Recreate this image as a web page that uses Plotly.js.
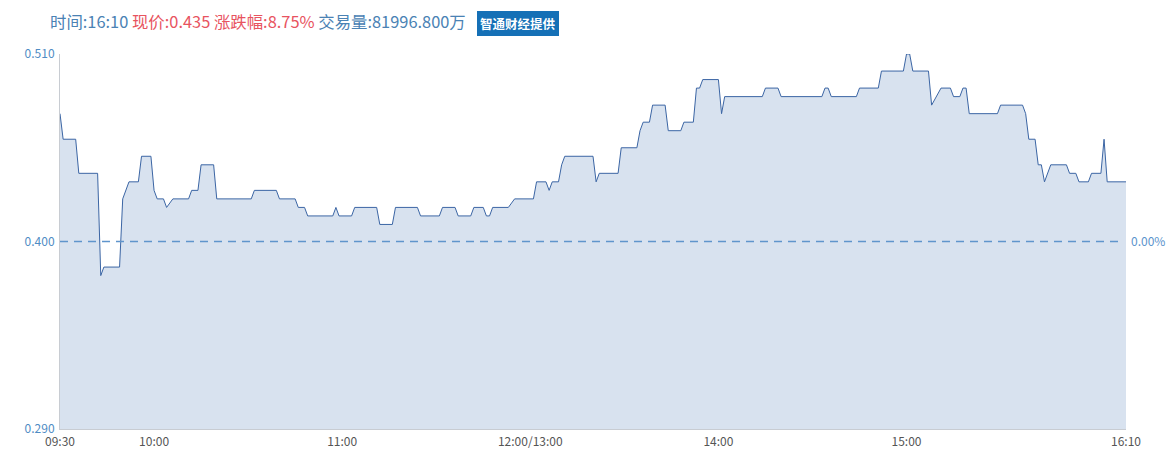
<!DOCTYPE html>
<html>
<head>
<meta charset="utf-8">
<script src="https://cdn.plot.ly/plotly-3.0.1.min.js"></script>
<style>
html,body{margin:0;padding:0;background:#fff;}
#chart{width:1176px;height:455px;}
</style>
</head>
<body>
<div id="chart"></div>
<script>
// minutes since 09:30 (lunch break removed), price
const minutes = [0,1,5,6,12,13,14,19,20,22,25,26,29,30,31,33,34,36,41,42,44,45,49,50,61,62,69,70,75,76,78,79,87,88,89,93,94,101,102,106,107,114,115,121,122,126,127,131,132,135,136,137,138,143,145,151,152,155,156,157,159,160,161,170,171,172,178,179,184,185,186,188,189,193,194,198,199,202,203,204,205,210,211,212,224,225,229,230,243,244,245,246,254,255,261,262,269,270,271,272,277,278,281,284,285,287,288,289,290,299,300,307,308,309,311,312,313,314,316,321,322,324,325,328,329,332,333,334,340];
const prices = [0.475,0.460,0.460,0.440,0.440,0.380,0.385,0.385,0.425,0.435,0.435,0.450,0.450,0.430,0.425,0.425,0.420,0.425,0.425,0.430,0.430,0.445,0.445,0.425,0.425,0.430,0.430,0.425,0.425,0.420,0.420,0.415,0.415,0.420,0.415,0.415,0.420,0.420,0.410,0.410,0.420,0.420,0.415,0.415,0.420,0.420,0.415,0.415,0.420,0.420,0.415,0.415,0.420,0.420,0.425,0.425,0.435,0.435,0.430,0.435,0.435,0.445,0.450,0.450,0.435,0.440,0.440,0.455,0.455,0.465,0.470,0.470,0.480,0.480,0.465,0.465,0.470,0.470,0.490,0.490,0.495,0.495,0.475,0.485,0.485,0.490,0.490,0.485,0.485,0.490,0.490,0.485,0.485,0.490,0.490,0.500,0.500,0.510,0.510,0.500,0.500,0.480,0.490,0.490,0.485,0.485,0.490,0.490,0.475,0.475,0.480,0.480,0.475,0.460,0.460,0.445,0.445,0.435,0.445,0.445,0.440,0.440,0.435,0.435,0.440,0.440,0.460,0.435,0.435];
const tickMinutes = [0,30,90,150,210,270,340];
const tickLabels = ['09:30','10:00','11:00','12:00/13:00','14:00','15:00','16:10'];
const prevClose = 0.400;
const yTicks = [0.290,0.400,0.510];
const yTickLabels = ['0.290','0.400','0.510'];
const rightTicks = [0.400];
const rightTickLabels = ['0.00%'];

const FONT = '"Noto Sans CJK SC", "Noto Sans", sans-serif';

const trace = {
  x: minutes, y: prices, type: 'scatter', mode: 'lines',
  line: {color: '#3b65a4', width: 1},
  fill: 'tozeroy', fillcolor: '#d8e2ef',
  hoverinfo: 'skip'
};
const dummy = {x:[0,340], y:[prevClose,prevClose], yaxis:'y2', mode:'lines', line:{width:0}, hoverinfo:'skip', showlegend:false};

const layout = {
  width: 1176, height: 455,
  margin: {l: 60, r: 50, t: 54, b: 26},
  paper_bgcolor: '#fff', plot_bgcolor: '#fff',
  showlegend: false,
  font: {family: FONT},
  xaxis: {
    range: [0, 340], tickvals: tickMinutes, ticktext: tickLabels,
    showgrid: false, zeroline: false, showline: true, linecolor: '#c8ccd2', linewidth: 1,
    ticks: '', ticklabelstandoff: 2, tickfont: {size: 12, color: '#555', family: FONT}, fixedrange: true
  },
  yaxis: {
    range: [0.290, 0.510], tickvals: yTicks, ticktext: yTickLabels,
    showgrid: false, zeroline: false, showline: true, linecolor: '#c8ccd2', linewidth: 1,
    ticks: '', ticklabelstandoff: 2, tickfont: {size: 12, color: '#4f8cc4', family: FONT}
  },
  yaxis2: {
    overlaying: 'y', side: 'right', range: [0.290, 0.510],
    tickvals: rightTicks, ticktext: rightTickLabels,
    showgrid: false, zeroline: false, showline: false, ticks: '', ticklabelstandoff: 4,
    tickfont: {size: 12, color: '#5b93cc', family: FONT}
  },
  shapes: [{
    type: 'line', xref: 'paper', x0: 0, x1: 0.993, yref: 'y', y0: prevClose, y1: prevClose,
    line: {color: '#5f95cc', width: 1.5, dash: '8px,6px'}
  }],
  annotations: [
    {
      xref: 'paper', yref: 'paper', x: (48-60)/1066, y: 1 + (54-21)/375,
      xanchor: 'left', yanchor: 'middle', showarrow: false,
      text: '<span style="color:#4a82b4">时间:16:10</span> <span style="color:#e8545f">现价:0.435 涨跌幅:8.75%</span> <span style="color:#4a82b4">交易量:81996.800万</span>',
      font: {size: 16.4, family: FONT}
    },
    {
      xref: 'paper', yref: 'paper', x: (518-60)/1066, y: 1 + (54-23)/375,
      xanchor: 'center', yanchor: 'middle', showarrow: false,
      text: '<b>智通财经提供</b>', bgcolor: '#1570b6', bordercolor: '#1570b6', borderpad: 2,
      font: {size: 12.5, color: '#fff', family: FONT}
    }
  ]
};

Plotly.newPlot('chart', [trace, dummy], layout, {displayModeBar: false, staticPlot: true});
</script>
</body>
</html>
